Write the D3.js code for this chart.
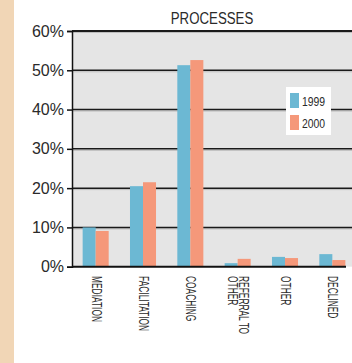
<!DOCTYPE html>
<html>
<head>
<meta charset="utf-8">
<script src="https://cdn.jsdelivr.net/npm/d3@7"></script>
<style>
  body { margin: 0; background: #fff; }
  text { font-family: "Liberation Sans", Arial, sans-serif; fill: #2a2a2a; }
</style>
</head>
<body>
<div id="my_dataviz"></div>
<script>
// data
var categories = ["MEDIATION", "FACILITATION", "COACHING", "REFERRAL TO|OTHER", "OTHER", "DECLINED"];
var years = ["1999", "2000"];
var values1999 = [10.0, 20.5, 51.3, 0.9, 2.5, 3.2];
var values2000 = [9.1, 21.5, 52.6, 2.0, 2.2, 1.7];
var yTicks = [0, 10, 20, 30, 40, 50, 60];
var colors = ["#6cb8d3", "#f5987a"];

var W = 352, H = 363;
var margin = {top: 31, left: 72, bottom: 96};

var svg = d3.select("#my_dataviz")
  .append("svg")
    .attr("width", W)
    .attr("height", H);

// beige strip on the left
svg.append("rect")
  .attr("x", 0).attr("y", 0)
  .attr("width", 14).attr("height", H)
  .attr("fill", "#f1d6b6");

var x = d3.scaleBand()
  .domain(categories)
  .range([margin.left, 356])
  .paddingInner(0.45)
  .paddingOuter(0.225);

var xSub = d3.scaleBand()
  .domain(years)
  .range([0, x.bandwidth()]);

var y = d3.scaleLinear()
  .domain([0, 60])
  .range([H - margin.bottom - 0.3, margin.top]);

// plot background
svg.append("rect")
  .attr("x", margin.left).attr("y", margin.top)
  .attr("width", W - margin.left).attr("height", y(0) - margin.top)
  .attr("fill", "#e5e5e5");

// gridlines (black with a light shadow below)
var grid = svg.append("g");
grid.selectAll(".shadow")
  .data(yTicks.filter(function(d) { return d > 0; }))
  .enter().append("line")
  .attr("x1", margin.left).attr("x2", W)
  .attr("y1", function(d) { return y(d) + 1.5; })
  .attr("y2", function(d) { return y(d) + 1.5; })
  .attr("stroke", "#bdbdbd").attr("stroke-width", 1);
grid.selectAll(".gl")
  .data(yTicks.filter(function(d) { return d > 0; }))
  .enter().append("line")
  .attr("x1", margin.left).attr("x2", W)
  .attr("y1", function(d) { return y(d); })
  .attr("y2", function(d) { return y(d); })
  .attr("stroke", "#1a1a1a").attr("stroke-width", function(d) { return d == 60 ? 2 : 1.5; });

// bars
var data = categories.map(function(c, i) {
  return {cat: c, vals: [{year: "1999", v: values1999[i]}, {year: "2000", v: values2000[i]}]};
});

svg.append("g")
  .selectAll("g")
  .data(data)
  .enter().append("g")
    .attr("transform", function(d) { return "translate(" + x(d.cat) + ",0)"; })
  .selectAll("rect")
  .data(function(d) { return d.vals; })
  .enter().append("rect")
    .attr("x", function(d) { return xSub(d.year); })
    .attr("width", xSub.bandwidth())
    .attr("y", function(d) { return y(d.v); })
    .attr("height", function(d) { return y(0) - y(d.v); })
    .attr("fill", function(d, i) { return colors[i]; });

// Y axis
var yAxis = svg.append("g")
  .attr("transform", "translate(" + margin.left + ",0)")
  .call(d3.axisLeft(y).tickValues(yTicks).tickSize(5).tickPadding(3)
        .tickFormat(function(d) { return d + "%"; }));
yAxis.select(".domain").attr("stroke", "#111").attr("stroke-width", 1.5);
yAxis.selectAll(".tick line").attr("stroke", "#111").attr("stroke-width", 1.5);
yAxis.selectAll("text").attr("font-size", 16).attr("fill", "#2a2a2a")
  .attr("font-family", "'Liberation Sans Narrow', 'Arial Narrow', sans-serif");

// bottom axis line
svg.append("line")
  .attr("x1", margin.left).attr("x2", 346)
  .attr("y1", y(0)).attr("y2", y(0))
  .attr("stroke", "#111").attr("stroke-width", 2);

// x labels, rotated to read downward (squeezed to a condensed look)
var labels = svg.append("g")
  .selectAll("text")
  .data(categories)
  .enter().append("text")
    .attr("transform", function(d) {
      var lines = d.split("|").length;
      var cx = x(d) + x.bandwidth() / 2 + (lines - 1) * 5.5 - 4;
      return "translate(" + cx + "," + 276 + ") rotate(90) scale(0.6,1)";
    })
    .attr("font-size", 14)
    .attr("fill", "#333")
    .attr("text-anchor", "start");
labels.selectAll("tspan")
  .data(function(d) { return d.split("|"); })
  .enter().append("tspan")
    .attr("x", 0)
    .attr("dy", function(d, i) { return i == 0 ? 0 : 11; })
    .text(function(d) { return d; });

// title
svg.append("text")
  .attr("transform", "translate(212,24) scale(0.78,1)")
  .attr("text-anchor", "middle")
  .attr("font-size", 17)
  .text("PROCESSES");

// legend
var legend = svg.append("g").attr("transform", "translate(286,87)");
legend.append("rect")
  .attr("width", 45).attr("height", 48)
  .attr("fill", "#fff");
legend.selectAll(".sw")
  .data(years)
  .enter().append("rect")
    .attr("x", 4)
    .attr("y", function(d, i) { return 6 + i * 22; })
    .attr("width", 9).attr("height", 15)
    .attr("fill", function(d, i) { return colors[i]; });
legend.selectAll(".lt")
  .data(years)
  .enter().append("text")
    .attr("transform", function(d, i) { return "translate(16," + (19 + i * 22) + ") scale(0.8,1)"; })
    .attr("font-size", 13)
    .text(function(d) { return d; });
</script>
</body>
</html>
